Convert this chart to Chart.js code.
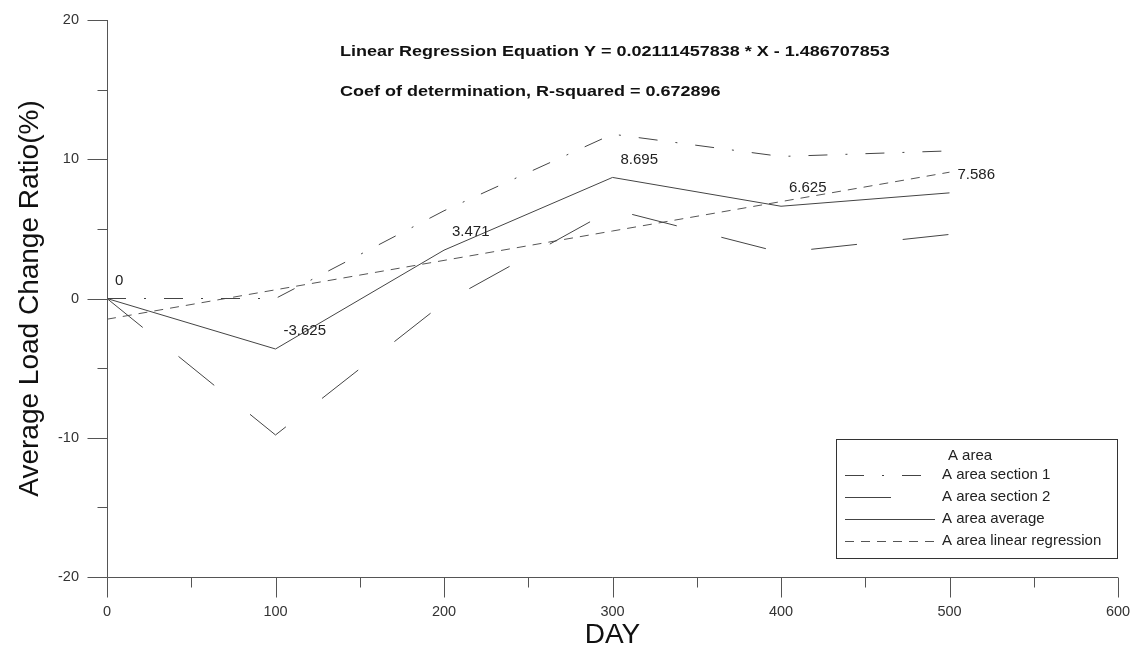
<!DOCTYPE html>
<html>
<head>
<meta charset="utf-8">
<script src="https://cdn.jsdelivr.net/npm/chart.js@4.4.0/dist/chart.umd.min.js"></script>
<style>
  html, body { margin: 0; padding: 0; background: #fff; }
  canvas { display: block; }
</style>
</head>
<body>
<canvas id="grafico" width="1137" height="651"></canvas>
<script>
// datos
const dias      = [0, 100, 200, 300, 400, 500];
const seccion1  = [0, 0, 6.3, 11.8, 10.2, 10.6];
const seccion2  = [0, -9.8, -0.3, 6.4, 3.3, 4.6];
const promedio  = [0, -3.625, 3.471, 8.695, 6.625, 7.586];
const regresion = [-1.487, 0.625, 2.736, 4.848, 6.959, 9.070];
const etiquetas = ['0', '-3.625', '3.471', '8.695', '6.625', '7.586'];
const ticksX    = [0, 100, 200, 300, 400, 500, 600];
const ticksY    = [-20, -10, 0, 10, 20];
const textoEcuacion = 'Linear Regression Equation Y = 0.02111457838 * X - 1.486707853';
const textoR2       = 'Coef of determination, R-squared = 0.672896';
const tituloLeyenda = 'A area';

const FUENTE = "'Liberation Sans', Arial, sans-serif";
const GRIS   = '#555';

function puntos(valores) {
    return dias.map((d, i) => ({ x: d, y: valores[i] }));
}

// ejes con marcas mayores (largas) y menores (cortas)
const marcasEjes = {
    id: 'marcasEjes',
    afterDraw(chart) {
        const { ctx, chartArea: a, scales: { x, y } } = chart;
        ctx.save();
        ctx.strokeStyle = GRIS;
        ctx.lineWidth = 1;
        ctx.beginPath();
        const ax = Math.round(a.left) + 0.5;
        const ay = Math.round(a.bottom) + 0.5;
        ctx.moveTo(ax, a.top); ctx.lineTo(ax, ay);
        ctx.moveTo(ax, ay); ctx.lineTo(a.right, ay);
        for (let v = x.min; v <= x.max; v += 50) {
            const px = Math.round(x.getPixelForValue(v)) + 0.5;
            const largo = v % 100 === 0 ? 20 : 10;
            ctx.moveTo(px, ay); ctx.lineTo(px, ay + largo);
        }
        for (let v = y.min; v <= y.max; v += 5) {
            const py = Math.round(y.getPixelForValue(v)) + 0.5;
            const largo = v % 10 === 0 ? 20 : 10;
            ctx.moveTo(ax, py); ctx.lineTo(ax - largo, py);
        }
        ctx.stroke();
        ctx.restore();
    }
};

// valores del promedio junto a cada punto
const etiquetasPromedio = {
    id: 'etiquetasPromedio',
    afterDatasetsDraw(chart) {
        const { ctx } = chart;
        const meta = chart.getDatasetMeta(2);
        ctx.save();
        ctx.fillStyle = '#222';
        ctx.font = '15px ' + FUENTE;
        ctx.textAlign = 'left';
        ctx.textBaseline = 'middle';
        meta.data.forEach((p, i) => {
            ctx.fillText(etiquetas[i], p.x + 8, p.y - 18);
        });
        ctx.restore();
    }
};

// texto de la regresion (la fuente original es mas ancha)
const anotaciones = {
    id: 'anotaciones',
    afterDraw(chart) {
        const { ctx } = chart;
        ctx.save();
        ctx.fillStyle = '#111';
        ctx.font = 'bold 15px ' + FUENTE;
        ctx.textAlign = 'left';
        ctx.textBaseline = 'middle';
        ctx.translate(340, 0);
        ctx.scale(1.2, 1);
        ctx.fillText(textoEcuacion, 0, 52);
        ctx.fillText(textoR2, 0, 92);
        ctx.restore();
    }
};

// leyenda en recuadro
const leyenda = {
    id: 'leyenda',
    afterDraw(chart) {
        const { ctx } = chart;
        const caja = { x: 836.5, y: 439.5, w: 281, h: 119 };
        ctx.save();
        ctx.fillStyle = '#fff';
        ctx.fillRect(caja.x, caja.y, caja.w, caja.h);
        ctx.strokeStyle = '#333';
        ctx.lineWidth = 1;
        ctx.strokeRect(caja.x, caja.y, caja.w, caja.h);
        ctx.font = '15px ' + FUENTE;
        ctx.fillStyle = '#222';
        ctx.textBaseline = 'middle';
        ctx.textAlign = 'center';
        ctx.fillText(tituloLeyenda, 970, 456);
        ctx.textAlign = 'left';
        chart.data.datasets.forEach((ds, i) => {
            const fy = 475 + i * 22;
            ctx.beginPath();
            ctx.strokeStyle = ds.borderColor;
            ctx.lineWidth = ds.borderWidth;
            ctx.setLineDash(ds.borderDash || []);
            ctx.moveTo(845, fy + 0.5);
            ctx.lineTo(935, fy + 0.5);
            ctx.stroke();
            ctx.setLineDash([]);
            ctx.fillText(ds.label, 942, fy);
        });
        ctx.restore();
    }
};

new Chart(document.getElementById('grafico'), {
    type: 'line',
    data: {
        datasets: [
            { label: 'A area section 1', data: puntos(seccion1), borderColor: '#444', borderWidth: 1, borderDash: [19, 18, 2, 18] },
            { label: 'A area section 2', data: puntos(seccion2), borderColor: '#444', borderWidth: 1, borderDash: [46, 46] },
            { label: 'A area average', data: puntos(promedio), borderColor: '#444', borderWidth: 1 },
            { label: 'A area linear regression', data: puntos(regresion), borderColor: '#555', borderWidth: 1, borderDash: [9, 7] }
        ]
    },
    options: {
        responsive: false,
        devicePixelRatio: 1,
        animation: false,
        elements: { point: { radius: 0 }, line: { tension: 0 } },
        layout: { padding: { top: 20, right: 19, left: 0, bottom: 0 } },
        plugins: { legend: { display: false }, tooltip: { enabled: false } },
        scales: {
            x: {
                type: 'linear',
                min: 0, max: 600,
                afterFit: s => { s.height = 74; s.paddingLeft = 0; s.paddingRight = 0; },
                afterBuildTicks: s => { s.ticks = ticksX.map(v => ({ value: v })); },
                grid: { display: false, drawTicks: false },
                border: { display: false },
                ticks: { padding: 26, color: '#333', font: { family: FUENTE, size: 14.5 }, maxRotation: 0 },
                title: { display: true, text: 'DAY', color: '#111', font: { family: FUENTE, size: 28, lineHeight: 1.1 }, padding: { top: 0, bottom: 0 } }
            },
            y: {
                min: -20, max: 20,
                afterFit: s => { s.width = 107; s.paddingTop = 0; s.paddingBottom = 0; },
                afterBuildTicks: s => { s.ticks = ticksY.map(v => ({ value: v })); },
                grid: { display: false, drawTicks: false },
                border: { display: false },
                ticks: { padding: 28, color: '#333', font: { family: FUENTE, size: 14.5 } },
                title: { display: true, text: 'Average Load Change Ratio(%)', color: '#111', font: { family: FUENTE, size: 28, lineHeight: 1.1 }, padding: { top: 15, bottom: 0 } }
            }
        }
    },
    plugins: [marcasEjes, etiquetasPromedio, anotaciones, leyenda]
});
</script>
</body>
</html>
